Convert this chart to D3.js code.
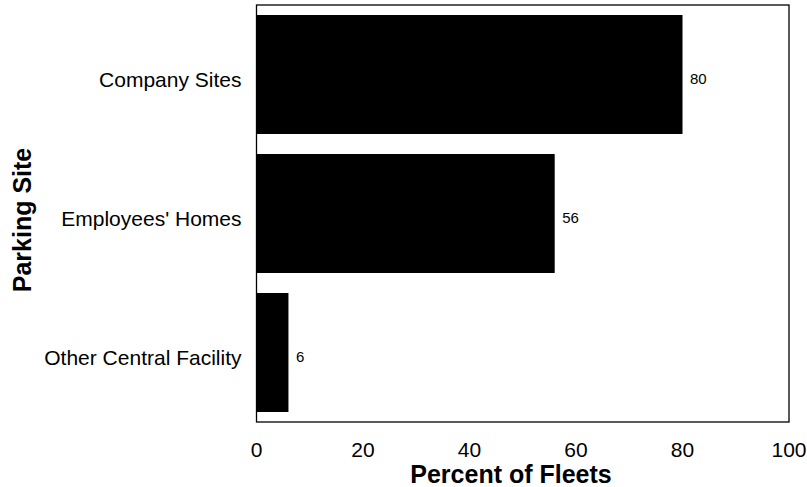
<!DOCTYPE html>
<html><head><meta charset="utf-8">
<script src="https://cdn.jsdelivr.net/npm/d3@7"></script>
<style>body{margin:0;background:#fff}svg{display:block;font-family:"Liberation Sans",Arial,sans-serif}</style>
</head><body><svg id="c" width="807" height="487"></svg>
<script>
const categories = ["Company Sites", "Employees' Homes", "Other Central Facility"];
const values = [80, 56, 6];
const xTicks = [0, 20, 40, 60, 80, 100];

const svg = d3.select("#c");
const L = 256.5, R = 789, T = 5, B = 422;
const x = d3.scaleLinear().domain([0, 100]).range([L, R]);
const y = d3.scaleBand().domain(categories).range([T, B]).paddingInner(0.144).paddingOuter(0.072);

svg.selectAll("rect.bar").data(categories).join("rect").attr("class","bar")
  .attr("x", x(0)).attr("y", d => y(d))
  .attr("width", (d,i) => x(values[i]) - x(0)).attr("height", y.bandwidth())
  .attr("fill", "#000");

svg.append("rect").attr("x", L).attr("y", T).attr("width", R - L).attr("height", B - T)
  .attr("fill", "none").attr("stroke", "#000").attr("stroke-width", 1.3);

svg.selectAll("text.val").data(categories).join("text").attr("class","val")
  .attr("x", (d,i) => x(values[i]) + 7.5).attr("y", d => y(d) + y.bandwidth()/2 + 9.5)
  .attr("font-size", 15).text((d,i) => values[i]);

svg.selectAll("text.cat").data(categories).join("text").attr("class","cat")
  .attr("x", L - 15).attr("y", d => y(d) + y.bandwidth()/2 + 12)
  .attr("text-anchor", "end").attr("font-size", 21).text(d => d);

svg.selectAll("text.tick").data(xTicks).join("text").attr("class","tick")
  .attr("x", d => x(d)).attr("y", 457).attr("text-anchor", "middle")
  .attr("font-size", 21).text(d => d);

svg.append("text").attr("x", 511).attr("y", 483).attr("text-anchor", "middle")
  .attr("font-size", 25).attr("font-weight", "bold").text("Percent of Fleets");

svg.append("text").attr("transform", `translate(31,220) rotate(-90)`)
  .attr("text-anchor", "middle").attr("font-size", 25).attr("font-weight", "bold").text("Parking Site");
</script></body></html>
